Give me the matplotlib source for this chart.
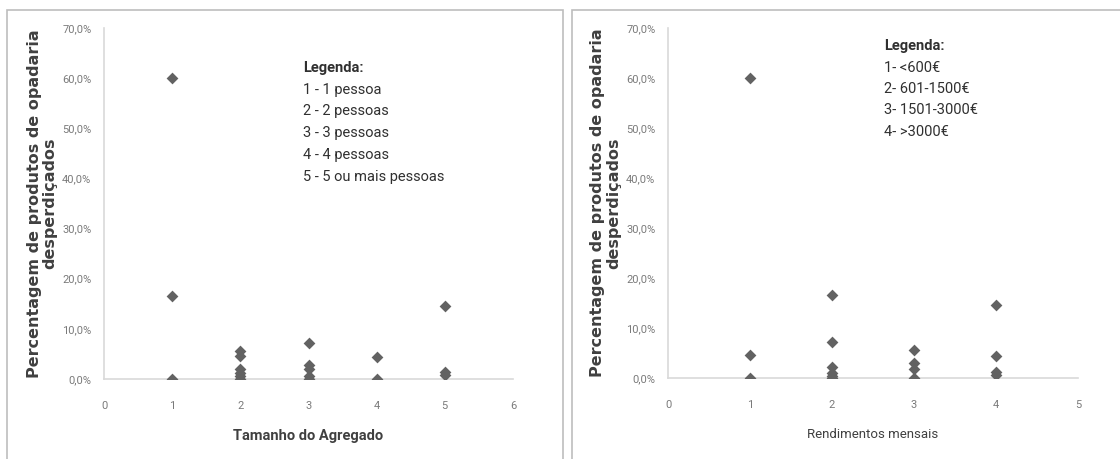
import matplotlib
matplotlib.use("Agg")
import matplotlib.pyplot as plt
from matplotlib.patches import Rectangle
from matplotlib.ticker import FuncFormatter

# Household size vs. share of bakery products wasted
size_x = [1, 1, 1, 2, 2, 2, 2, 2, 2, 3, 3, 3, 3, 3, 4, 4, 5, 5, 5]
size_y = [60.0, 16.6, 0.0, 5.5, 4.5, 1.9, 1.1, 0.5, 0.0,
          7.1, 2.8, 2.0, 0.5, 0.0, 4.4, 0.0, 14.6, 1.3, 0.8]

# Monthly income vs. share of bakery products wasted
income_x = [1, 1, 1, 2, 2, 2, 2, 2, 2, 3, 3, 3, 3, 4, 4, 4, 4]
income_y = [60.0, 4.6, 0.0, 16.7, 7.2, 2.2, 1.0, 0.4, 0.0,
            5.6, 3.0, 1.9, 0.0, 14.6, 4.5, 1.2, 0.6]

y_ticks = [0, 10, 20, 30, 40, 50, 60, 70]
size_ticks = [0, 1, 2, 3, 4, 5, 6]
income_ticks = [0, 1, 2, 3, 4, 5]

size_legend = ["1 - 1 pessoa", "2 - 2 pessoas", "3 - 3 pessoas",
               "4 - 4 pessoas", "5 - 5 ou mais pessoas"]
income_legend = ["1- <600€", "2- 601-1500€", "3- 1501-3000€", "4- >3000€"]

ylabel = "Percentagem de produtos de opadaria\ndesperdiçados"
NARROW = ["Roboto", "DejaVu Sans"]
WIDE = ["DejaVu Sans"]
MARK = "#626262"
TICK = "#7a7a7a"
AXIS = "#d9d9d9"

W, H = 1120, 459
fig = plt.figure(figsize=(W / 100, H / 100), dpi=100)

# panel frames
for x0, x1 in [(7, 563), (572, 1130)]:
    fig.add_artist(Rectangle((x0 / W, -0.05), (x1 - x0) / W, 1 - 10 / H + 0.05,
                             transform=fig.transFigure, fill=False,
                             edgecolor="#bdbdbd", linewidth=1.2))


def panel(rect, xs, ys, xticks, xlabel, xlabel_kw, legend_title_xy, legend_lines,
          legend_dy):
    ax = fig.add_axes(rect)
    ax.scatter(xs, ys, marker="D", s=36, color=MARK, linewidths=0, zorder=3)
    ax.set_xlim(xticks[0], xticks[-1])
    ax.set_ylim(0, 70)
    ax.set_xticks(xticks)
    ax.set_yticks(y_ticks)
    ax.yaxis.set_major_formatter(FuncFormatter(lambda v, p: f"{v:.1f}%".replace(".", ",")))
    for s in ["top", "right"]:
        ax.spines[s].set_visible(False)
    for s in ["left", "bottom"]:
        ax.spines[s].set_color(AXIS)
        ax.spines[s].set_linewidth(1.2)
    ax.tick_params(length=0, colors=TICK, labelsize=8, pad=9)
    ax.tick_params(axis="x", pad=16)
    for lab in ax.get_xticklabels() + ax.get_yticklabels():
        lab.set_family(NARROW)
    ax.set_ylabel(ylabel, family=WIDE, fontweight="bold", fontsize=11.5,
                  color="#404040", linespacing=1.05, ha="center", va="center")
    ax.yaxis.set_label_coords(-0.152, 0.5)
    ax.set_xlabel(xlabel, family=NARROW, color="#404040", labelpad=13, **xlabel_kw)
    tx, ty = legend_title_xy
    fig.text(tx / W, 1 - ty / H, "Legenda:", family=NARROW, fontweight="bold",
             fontsize=10.5, color="#303030", va="center")
    for i, line in enumerate(legend_lines):
        fig.text(tx / W, 1 - (ty + legend_dy * (i + 1)) / H, line, family=NARROW,
                 fontsize=10.5, color="#303030", va="center")
    return ax


panel([104 / W, 1 - 379 / H, 409 / W, 351 / H], size_x, size_y, size_ticks,
      "Tamanho do Agregado", dict(fontsize=10.5, fontweight="bold"),
      (303, 68), size_legend, 21.7)
panel([668 / W, 1 - 378 / H, 410 / W, 350 / H], income_x, income_y, income_ticks,
      "Rendimentos mensais", dict(fontsize=9.5),
      (884, 46), income_legend, 21.5)

fig.savefig("out.png", dpi=100)
